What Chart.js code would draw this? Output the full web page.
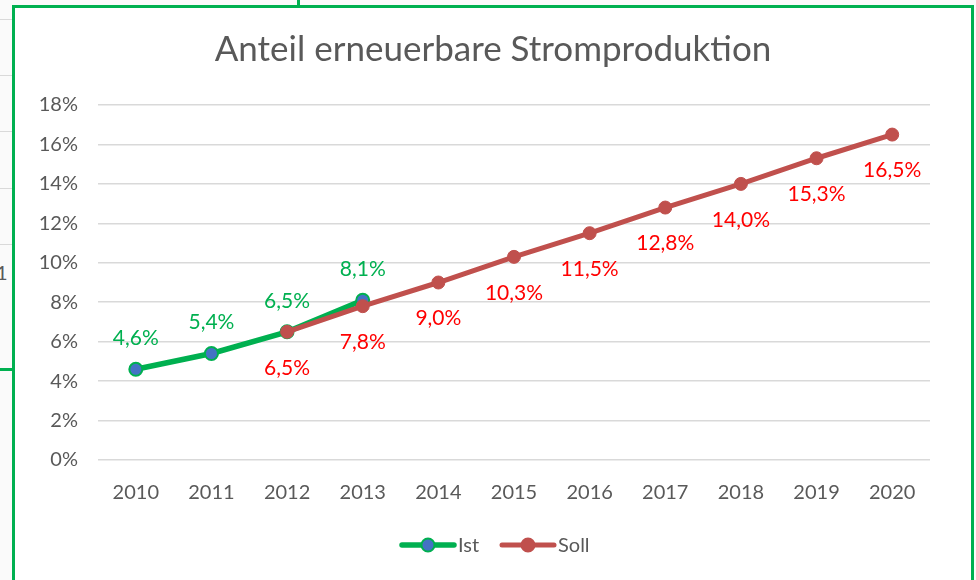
<!DOCTYPE html>
<html>
<head>
<meta charset="utf-8">
<script src="https://cdn.jsdelivr.net/npm/chart.js@4/dist/chart.umd.min.js"></script>
<style>
  body { margin: 0; background: #fafafa; font-family: Lato, sans-serif; }
  #wrap { position: relative; width: 976px; height: 580px; overflow: hidden; }
  .cell { position: absolute; left: 0; width: 12px; height: 1px; background: #d9d9d9; }
  #frame { position: absolute; left: 12px; top: 5px; width: 956px; height: 600px;
           border: 3px solid #00b050; background: #fff; }
  #other { position: absolute; left: 297px; top: 0; width: 3px; height: 6px; background: #00b050; }
  #otherH { position: absolute; left: 0; top: 368px; width: 13px; height: 3px; background: #00b050; }
  #one { position: absolute; left: -4px; top: 260px; font: 20px Lato, sans-serif; color: #595959; }
  canvas { position: absolute; left: 0; top: 0; }
</style>
</head>
<body>
<div id="wrap">
  <div class="cell" style="top:19px"></div>
  <div class="cell" style="top:75px"></div>
  <div class="cell" style="top:131px"></div>
  <div class="cell" style="top:188px"></div>
  <div class="cell" style="top:244px"></div>
  <div id="one">1</div>
  <div id="frame"></div>
  <div id="other"></div>
  <div id="otherH"></div>
  <canvas id="chart" width="976" height="580"></canvas>
</div>
<script>
const years = ['2010', '2011', '2012', '2013', '2014', '2015', '2016', '2017', '2018', '2019', '2020'];
const ist = [4.6, 5.4, 6.5, 8.1, null, null, null, null, null, null, null];
const soll = [null, null, 6.5, 7.8, 9.0, 10.3, 11.5, 12.8, 14.0, 15.3, 16.5];
const yTicks = [0, 2, 4, 6, 8, 10, 12, 14, 16, 18];

const textGrey = '#595959';
const font = 'Lato, sans-serif';

function fmt(v) {
    return v.toFixed(1).replace('.', ',') + '%';
}

// data labels, title and legend
const extras = {
    id: 'extras',
    afterDatasetsDraw(chart) {
        const ctx = chart.ctx;
        ctx.save();
        ctx.textAlign = 'center';
        ctx.textBaseline = 'middle';
        ctx.font = '21px ' + font;
        chart.data.datasets.forEach((ds, i) => {
            const meta = chart.getDatasetMeta(i);
            meta.data.forEach((pt, j) => {
                const v = ds.data[j];
                if (v == null) return;
                ctx.fillStyle = ds.labelColor;
                ctx.fillText(fmt(v), pt.x, pt.y + ds.labelOffset);
            });
        });

        // title
        ctx.fillStyle = textGrey;
        ctx.font = '35px ' + font;
        ctx.fillText('Anteil erneuerbare Stromproduktion', 493, 50);

        // legend
        ctx.font = '20px ' + font;
        ctx.textAlign = 'left';
        const items = [
            { x: 400, label: 'Ist', ds: chart.data.datasets[0] },
            { x: 500, label: 'Soll', ds: chart.data.datasets[1] }
        ];
        const ly = 545;
        items.forEach(it => {
            ctx.strokeStyle = it.ds.borderColor;
            ctx.lineWidth = it.ds.borderWidth;
            ctx.lineCap = 'round';
            ctx.beginPath();
            ctx.moveTo(it.x + 2, ly);
            ctx.lineTo(it.x + 54, ly);
            ctx.stroke();
            ctx.beginPath();
            ctx.arc(it.x + 28, ly, 6.5, 0, Math.PI * 2);
            ctx.fillStyle = it.ds.pointBackgroundColor;
            ctx.fill();
            ctx.lineWidth = 2;
            ctx.strokeStyle = it.ds.pointBorderColor;
            ctx.stroke();
            ctx.fillStyle = textGrey;
            ctx.fillText(it.label, it.x + 58, ly + 1);
        });
        ctx.restore();
    }
};

new Chart(document.getElementById('chart'), {
    type: 'line',
    data: {
        labels: years,
        datasets: [
            {
                label: 'Ist',
                data: ist,
                borderColor: '#00b050',
                borderWidth: 5.5,
                pointBackgroundColor: '#4472c4',
                pointBorderColor: '#00b050',
                pointBorderWidth: 2,
                pointRadius: 6.5,
                labelColor: '#00b050',
                labelOffset: -31,
                order: 2
            },
            {
                label: 'Soll',
                data: soll,
                borderColor: '#c0504d',
                borderWidth: 5,
                pointBackgroundColor: '#c0504d',
                pointBorderColor: '#c0504d',
                pointBorderWidth: 1,
                pointRadius: 6.5,
                labelColor: '#ff0000',
                labelOffset: 36,
                order: 1
            }
        ]
    },
    options: {
        responsive: false,
        animation: false,
        layout: { padding: { top: 105, left: 0, right: 46, bottom: 0 } },
        plugins: {
            legend: { display: false },
            title: { display: false },
            tooltip: { enabled: false }
        },
        scales: {
            x: {
                offset: true,
                grid: { display: false },
                border: { display: false },
                ticks: { color: textGrey, font: { family: font, size: 20 }, padding: 13 },
                afterFit(scale) { scale.height = 120; }
            },
            y: {
                min: 0,
                max: 18,
                afterBuildTicks(scale) { scale.ticks = yTicks.map(v => ({ value: v })); },
                grid: { color: '#d9d9d9', lineWidth: 1.5, drawTicks: false },
                border: { display: false },
                ticks: {
                    color: textGrey,
                    font: { family: font, size: 20 },
                    padding: 20,
                    callback: v => v + '%'
                },
                afterFit(scale) { scale.width = 98; }
            }
        }
    },
    plugins: [extras]
});
</script>
</body>
</html>
